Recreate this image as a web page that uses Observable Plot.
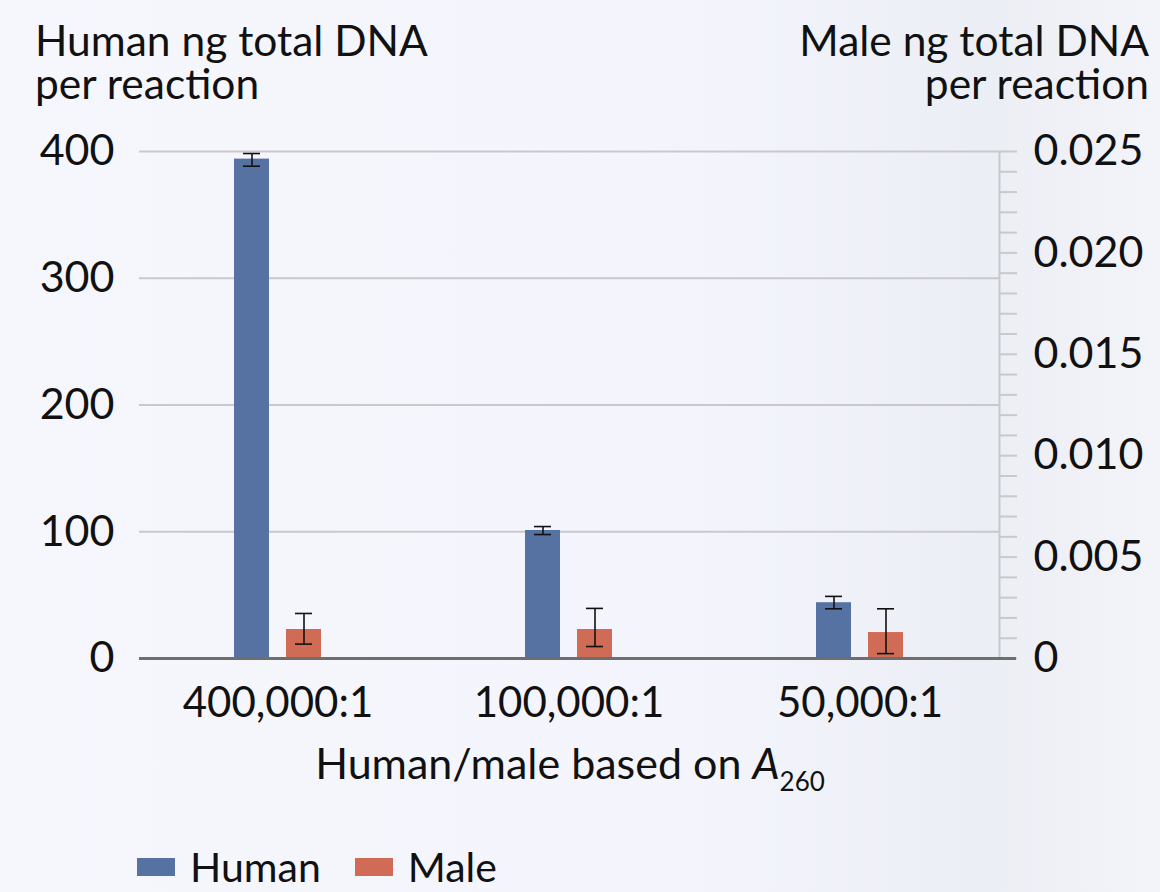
<!DOCTYPE html>
<html>
<head>
<meta charset="utf-8">
<script src="https://cdn.jsdelivr.net/npm/d3@7"></script>
<script src="https://cdn.jsdelivr.net/npm/@observablehq/plot@0.6"></script>
<style>
  html, body { margin: 0; padding: 0; }
  #wrap {
    position: relative; width: 1160px; height: 892px; overflow: hidden;
    background: linear-gradient(90deg, #f6f6fd 0%, #f4f5fc 60%, #eceef5 85%, #f3f4f9 100%);
    font-family: "Lato", sans-serif; color: #111;
  }
  #chart { position: absolute; left: 0; top: 0; }
  .t { position: absolute; font-size: 42.5px; line-height: 40px; height: 40px; white-space: nowrap; }
  #xt { position: absolute; font-size: 43px; white-space: nowrap; left: 0; width: 1140px; text-align: center; top: 739px; line-height: 48px; }
  #xt sub { font-size: 26px; vertical-align: -12px; line-height: 0; }
  #legend { position: absolute; left: 137px; top: 845px; display: flex; align-items: center; font-size: 41px; line-height: 43px; }
  .sw { display: inline-block; width: 38px; height: 18px; margin-right: 15px; }
</style>
</head>
<body>
<div id="wrap">
  <div id="chart"></div>
  <div class="t" style="left:35px; top:20px;">Human ng total DNA</div>
  <div class="t" style="left:35px; top:63px;">per reaction</div>
  <div class="t" style="right:11px; top:20px; text-align:right;">Male ng total DNA</div>
  <div class="t" style="right:11px; top:63px; text-align:right;">per reaction</div>
  <div id="xt">Human/male based on <i>A</i><sub>260</sub></div>
  <div id="legend">
    <span class="sw" style="background:#5572a3"></span><span style="margin-right:34px">Human</span>
    <span class="sw" style="background:#d06c56"></span><span>Male</span>
  </div>
</div>
<script>
const groups = ["400,000:1", "100,000:1", "50,000:1"];
const humanValues = [394, 101, 44];
const humanLow = [388.4, 97.8, 39.2];
const humanHigh = [398.4, 104.1, 49];
const maleValues = [0.00143, 0.00143, 0.00128];
const maleLow = [0.00071, 0.00059, 0.00024];
const maleHigh = [0.00222, 0.00247, 0.00245];
const leftTicks = [0, 100, 200, 300, 400];
const rightMajor = [0, 0.005, 0.010, 0.015, 0.020, 0.025];
const rightLabels = ["0", "0.005", "0.010", "0.015", "0.020", "0.025"];
const rightMinorStep = 0.001;

const leftMax = 400, rightMax = 0.025;
const k = leftMax / rightMax;
const human = groups.map((g, i) => ({g, v: humanValues[i], lo: humanLow[i], hi: humanHigh[i]}));
const male = groups.map((g, i) => ({g, v: maleValues[i] * k, lo: maleLow[i] * k, hi: maleHigh[i] * k}));
const minorTicks = d3.range(0, 26).map(i => i * rightMinorStep * k);
const fmtRight = d => {
  const idx = rightMajor.findIndex(m => Math.abs(m * k - d) < 1e-6);
  return idx >= 0 ? rightLabels[idx] : "";
};

const HC = "#5572a3", MC = "#d06c56", GRID = "#c9c9cc";
const chart = Plot.plot({
  width: 1160, height: 892,
  marginTop: 151, marginBottom: 234, marginLeft: 139, marginRight: 161,
  style: {fontFamily: "Lato, sans-serif", fontSize: "43px", background: "transparent", color: "#111"},
  x: {domain: groups, paddingInner: 0.701, paddingOuter: 0.328, label: null},
  y: {domain: [0, leftMax], label: null},
  marks: [
    Plot.gridY({ticks: [100, 200, 300, 400], stroke: GRID, strokeOpacity: 1, strokeWidth: 2}),
    Plot.frame({anchor: "right", stroke: GRID, strokeWidth: 2}),
    Plot.axisY({anchor: "left", ticks: leftTicks, tickSize: 0, tickPadding: 25, fontSize: 43, label: null}),
    Plot.axisY({anchor: "right", ticks: minorTicks, tickFormat: fmtRight, tickSize: 17, tickPadding: 17, stroke: GRID, strokeWidth: 2, fontSize: 43, label: null}),
    Plot.barY(human, {x: "g", y: "v", fill: HC, insetRight: 52}),
    Plot.barY(male, {x: "g", y: "v", fill: MC, insetLeft: 52}),
    Plot.ruleX(human, {x: "g", y1: "lo", y2: "hi", dx: -26, stroke: "#111", strokeWidth: 1.6}),
    Plot.tickY(human, {x: "g", y: "lo", insetLeft: 9, insetRight: 61, stroke: "#111", strokeWidth: 1.6}),
    Plot.tickY(human, {x: "g", y: "hi", insetLeft: 9, insetRight: 61, stroke: "#111", strokeWidth: 1.6}),
    Plot.ruleX(male, {x: "g", y1: "lo", y2: "hi", dx: 26, stroke: "#111", strokeWidth: 1.6}),
    Plot.tickY(male, {x: "g", y: "lo", insetLeft: 61, insetRight: 9, stroke: "#111", strokeWidth: 1.6}),
    Plot.tickY(male, {x: "g", y: "hi", insetLeft: 61, insetRight: 9, stroke: "#111", strokeWidth: 1.6}),
    Plot.ruleY([0], {stroke: "#6e6e6e", strokeWidth: 3, insetRight: -17}),
    Plot.axisX({tickSize: 0, tickPadding: 29, fontSize: 42, label: null})
  ]
});
document.getElementById("chart").append(chart);
</script>
</body>
</html>
